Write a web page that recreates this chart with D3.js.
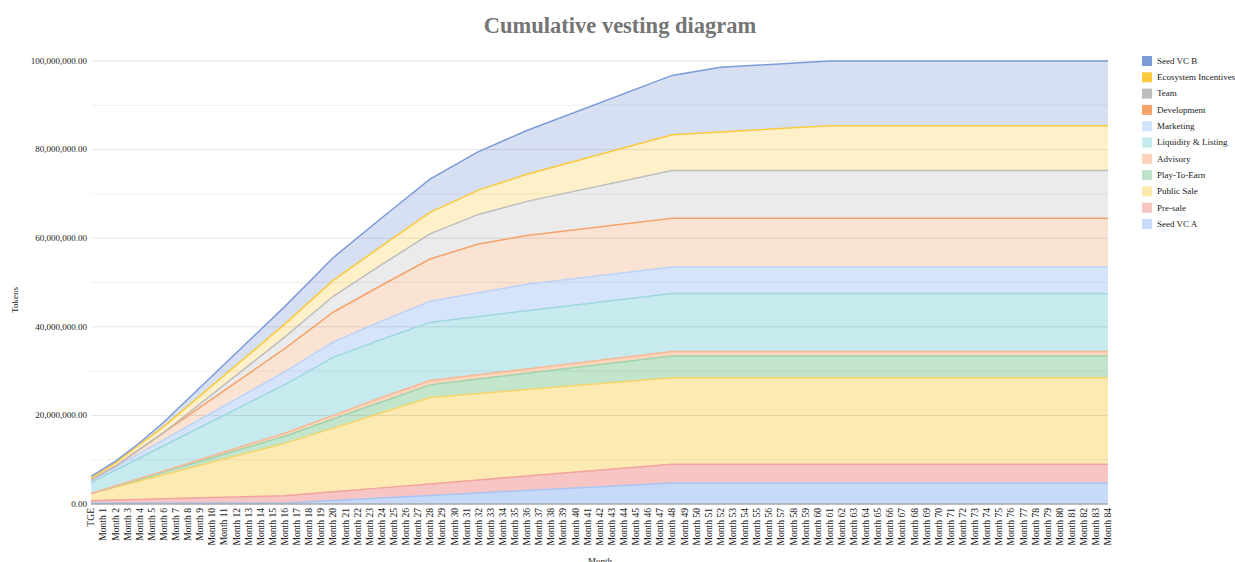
<!DOCTYPE html>
<html>
<head>
<meta charset="utf-8">
<script src="https://cdn.jsdelivr.net/npm/d3@7"></script>
<style>
  body { margin: 0; background: #fff; }
  text { font-family: "Liberation Serif", "Times New Roman", serif; }
</style>
</head>
<body>
<svg id="chart" width="1235" height="562"></svg>
<script>
// x categories (TGE + 84 months)
var categories = ["TGE"].concat(d3.range(1, 85).map(function(i) { return "Month " + i; }));

// months where the vesting curves change slope (in millions)
var keyMonths   = [0, 2, 4, 6, 16, 20, 24, 28, 32, 36, 48, 52, 61, 84];

var seedVcA     = [0.25, 0.25, 0.25, 0.25, 0.25, 0.81, 1.38, 1.94, 2.5, 3.06, 4.75, 4.75, 4.75, 4.75];
var preSale     = [0.5, 0.64, 0.78, 0.91, 1.6, 1.93, 2.26, 2.59, 2.93, 3.26, 4.25, 4.25, 4.25, 4.25];
var publicSale  = [1.6, 2.88, 4.16, 5.44, 11.83, 14.39, 16.94, 19.5, 19.5, 19.5, 19.5, 19.5, 19.5, 19.5];
var playToEarn  = [0, 0.2, 0.41, 0.61, 1.63, 2.04, 2.45, 2.86, 3.27, 3.68, 4.9, 4.9, 4.9, 4.9];
var advisory    = [0, 0.08, 0.17, 0.25, 0.67, 0.83, 1.0, 1.0, 1.0, 1.0, 1.0, 1.0, 1.0, 1.0];
var liquidity   = [2.5, 3.56, 4.62, 5.68, 10.98, 13.1, 13.1, 13.1, 13.1, 13.1, 13.1, 13.1, 13.1, 13.1];
var marketing   = [0.4, 0.71, 1.02, 1.33, 2.89, 3.51, 4.13, 4.76, 5.38, 6.0, 6.0, 6.0, 6.0, 6.0];
var development = [0.2, 0.2, 0.92, 1.64, 5.24, 6.68, 8.12, 9.56, 11.0, 11.0, 11.0, 11.0, 11.0, 11.0];
var team        = [0, 0, 0, 0, 2.57, 3.6, 4.63, 5.66, 6.69, 7.71, 10.8, 10.8, 10.8, 10.8];
var ecosystem   = [0.4, 0.72, 1.04, 1.35, 2.94, 3.58, 4.22, 4.85, 5.49, 6.12, 8.03, 8.67, 10.1, 10.1];
var seedVcB     = [0.4, 0.4, 0.4, 0.99, 3.95, 5.13, 6.32, 7.5, 8.68, 9.87, 13.42, 14.6, 14.6, 14.6];

var seriesNames = ["Seed VC A", "Pre-sale", "Public Sale", "Play-To-Earn", "Advisory",
  "Liquidity & Listing", "Marketing", "Development", "Team", "Ecosystem Incentives", "Seed VC B"];
var seriesData = [seedVcA, preSale, publicSale, playToEarn, advisory, liquidity,
  marketing, development, team, ecosystem, seedVcB];

var yTicks = [0, 20, 40, 60, 80, 100];

// colours
var lineColors = ["#a9c4f3", "#f1a39d", "#f6d46a", "#9fd3ad", "#f8b894", "#9ed8df",
  "#bcd2f7", "#f4a36b", "#bdbdbd", "#fbc93d", "#7b9bd6"];
var fillColors = ["#c6d9f8", "#f7c6c4", "#fde9b2", "#c2e5cc", "#fdd6bd", "#c6eaee",
  "#d6e4fb", "#fbe3d4", "#ebebeb", "#fef0c8", "#d7e0f3"];
var legendColors = ["#c7daf9", "#f6c5c2", "#fde9ae", "#bfe3c8", "#fdd3bb", "#c6ebee",
  "#d2e3fc", "#f4a36b", "#bdbdbd", "#fbc93d", "#7b9bd6"];

var svg = d3.select("#chart");

var x = d3.scalePoint()
  .domain(categories)
  .range([91, 1108]);

var y = d3.scaleLinear()
  .domain([0, 100])
  .range([504, 61]);

// build rows for stacking
var rows = keyMonths.map(function(m, i) {
  var r = { cat: categories[m] };
  seriesNames.forEach(function(n, j) { r[n] = seriesData[j][i]; });
  return r;
});

var stacked = d3.stack().keys(seriesNames)(rows);

var area = d3.area()
  .x(function(d) { return x(d.data.cat); })
  .y0(function(d) { return y(d[0]); })
  .y1(function(d) { return y(d[1]); });

var line = d3.line()
  .x(function(d) { return x(d.data.cat); })
  .y(function(d) { return y(d[1]); });

// areas
svg.append("g")
  .selectAll("path")
  .data(stacked)
  .enter()
  .append("path")
    .attr("d", area)
    .attr("fill", function(d, i) { return fillColors[i]; });

// gridlines every 10M, drawn see-through over the areas
svg.append("g")
  .selectAll("line")
  .data(d3.range(10, 101, 10))
  .enter()
  .append("line")
    .attr("x1", 91)
    .attr("x2", 1108)
    .attr("y1", function(d) { return y(d); })
    .attr("y2", function(d) { return y(d); })
    .attr("stroke", function(d) { return d % 20 == 0 ? "rgba(0,0,0,0.10)" : "rgba(0,0,0,0.06)"; })
    .attr("stroke-width", 1);

// series lines
svg.append("g")
  .selectAll("path")
  .data(stacked)
  .enter()
  .append("path")
    .attr("d", line)
    .attr("fill", "none")
    .attr("stroke", function(d, i) { return lineColors[i]; })
    .attr("stroke-width", 1.5);

// baseline
svg.append("line")
  .attr("x1", 91).attr("x2", 1108)
  .attr("y1", y(0)).attr("y2", y(0))
  .attr("stroke", "#a8a8a8")
  .attr("stroke-width", 1.5);

// y labels
var fmt = d3.format(",.2f");
svg.append("g")
  .selectAll("text")
  .data(yTicks)
  .enter()
  .append("text")
    .attr("x", 87)
    .attr("y", function(d) { return y(d); })
    .attr("dy", "0.32em")
    .attr("text-anchor", "end")
    .attr("font-size", "9px")
    .attr("fill", "#222")
    .text(function(d) { return fmt(d * 1000000); });

// x labels
svg.append("g")
  .selectAll("text")
  .data(categories)
  .enter()
  .append("text")
    .attr("transform", function(d) { return "translate(" + (x(d) + 3.3) + ",508)rotate(-90)"; })
    .attr("text-anchor", "end")
    .attr("font-size", "9.6px")
    .attr("fill", "#222")
    .text(function(d) { return d; });

// titles
svg.append("text")
  .attr("x", 620)
  .attr("y", 33)
  .attr("text-anchor", "middle")
  .attr("font-size", "22.5px")
  .attr("font-weight", "bold")
  .attr("fill", "#757575")
  .text("Cumulative vesting diagram");

svg.append("text")
  .attr("transform", "translate(18,300)rotate(-90)")
  .attr("text-anchor", "middle")
  .attr("font-size", "9px")
  .attr("fill", "#222")
  .text("Tokens");

svg.append("text")
  .attr("x", 600)
  .attr("y", 564)
  .attr("text-anchor", "middle")
  .attr("font-size", "9px")
  .attr("fill", "#222")
  .text("Month");

// legend (top series first)
var legendOrder = d3.range(seriesNames.length - 1, -1, -1);
var legend = svg.append("g")
  .selectAll("g")
  .data(legendOrder)
  .enter()
  .append("g")
    .attr("transform", function(d, i) { return "translate(1142," + (61 + i * 16.3) + ")"; });

legend.append("rect")
  .attr("x", 0).attr("y", -5)
  .attr("width", 10).attr("height", 10)
  .attr("fill", function(d) { return legendColors[d]; });

legend.append("text")
  .attr("x", 15)
  .attr("y", 0)
  .attr("dy", "0.32em")
  .attr("font-size", "9px")
  .attr("fill", "#222")
  .text(function(d) { return seriesNames[d]; });
</script>
</body>
</html>
